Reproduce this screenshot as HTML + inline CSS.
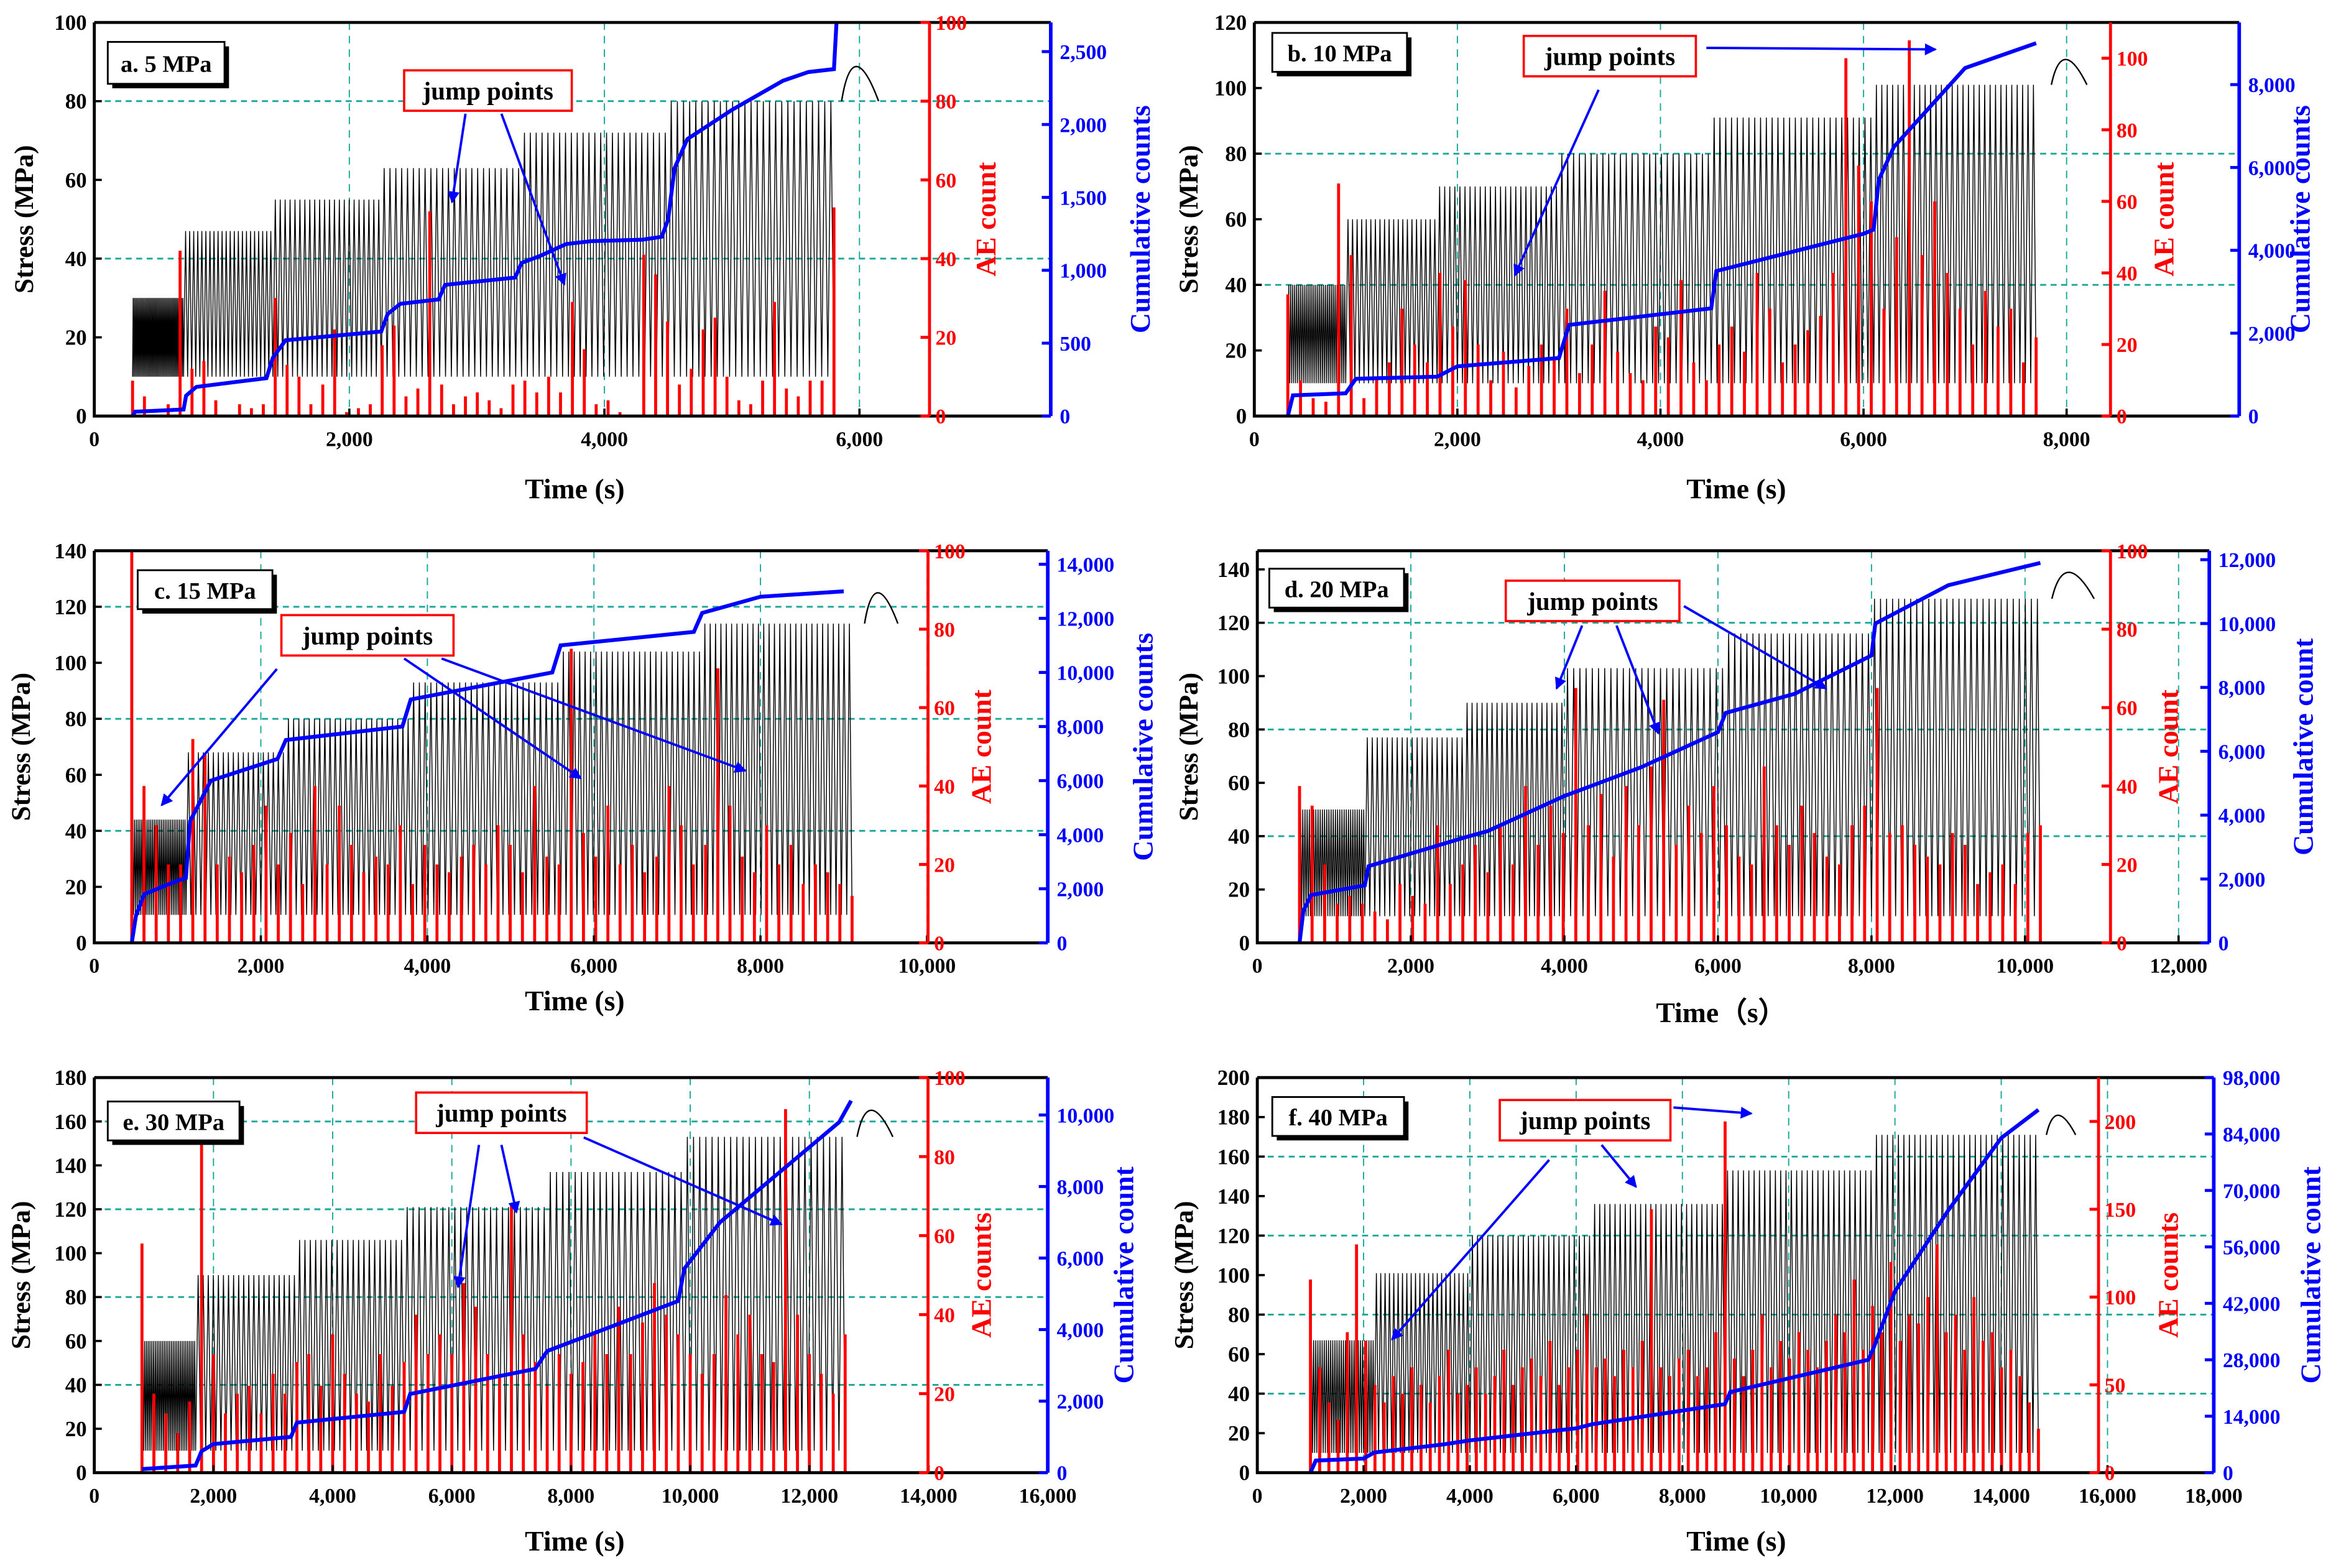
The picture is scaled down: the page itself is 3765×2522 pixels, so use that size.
<!DOCTYPE html>
<html><head><meta charset="utf-8">
<style>
html,body{margin:0;padding:0;background:#fff;}
svg{display:block;}
text{font-family:"Liberation Serif",serif;font-weight:bold;}
</style></head>
<body>
<svg id="fig" xmlns="http://www.w3.org/2000/svg" width="3765" height="2522" viewBox="0 0 1564 1047.7" preserveAspectRatio="none">
<defs>
<marker id="ah" markerWidth="8" markerHeight="8" refX="7" refY="4" orient="auto" markerUnits="userSpaceOnUse">
<path d="M0,0 L8,4 L0,8 Z" fill="#0000ff"/>
</marker>
</defs>
</svg>
<script>
// ---------- DATA ----------
const stageStart_a=[300,700,1400,2250,3350,4500];
const stageEnd_a=[700,1400,2250,3350,4500,5800];
const stageUpper_a=[30,47,55,63,72,80];
const stageCycles_a=[40,22,22,24,25,27];
const ae_a=[9,5,0,3,42,12,14,4,0,3,2,3,30,13,10,3,8,22,1,2,3,18,23,5,7,52,8,3,5,6,4,2,8,9,6,10,6,29,17,3,4,1,0,41,36,24,8,12,22,25,10,4,3,9,29,7,5,9,9,53];
const cumT_a=[300,320,700,720,800,1350,1400,1500,2000,2250,2300,2400,2700,2750,3300,3350,3500,3700,3900,4300,4450,4500,4550,4650,5000,5400,5600,5800,5820];
const cumV_a=[0,30,45,140,200,260,400,520,560,580,700,770,800,900,950,1050,1100,1180,1200,1210,1230,1350,1700,1900,2100,2300,2360,2380,2700];

const stageStart_b=[330,900,1800,3000,4500,6100];
const stageEnd_b=[900,1800,3000,4500,6100,7700];
const stageUpper_b=[40,60,70,80,91,101];
const stageCycles_b=[30,20,24,26,28,30];
const ae_b=[34,10,5,4,65,45,5,10,15,30,20,15,40,25,38,20,10,18,8,14,20,16,30,12,20,35,18,12,10,25,22,38,15,10,20,25,18,40,30,15,20,24,28,40,100,70,60,30,50,105,45,60,40,30,20,35,25,30,15,22];
const cumT_b=[330,380,900,1000,1800,2000,3000,3100,4500,4550,6000,6100,6150,6300,7000,7700];
const cumV_b=[0,500,550,900,950,1200,1400,2200,2600,3500,4400,4500,5700,6500,8400,9000];

const stageStart_c=[450,1100,2300,3800,5600,7300];
const stageEnd_c=[1100,2300,3800,5600,7300,9100];
const stageUpper_c=[44,68,80,93,104,114];
const stageCycles_c=[30,20,24,26,26,28];
const ae_c=[100,40,30,20,20,52,48,20,22,18,25,35,20,28,15,40,20,35,25,18,22,20,30,15,25,20,18,22,25,20,30,25,18,40,22,20,75,28,22,35,20,25,18,22,40,30,20,25,70,35,22,18,30,20,25,15,20,18,15,12];
const cumT_c=[450,500,600,1000,1100,1150,1400,2200,2300,3700,3800,5500,5600,7200,7300,8000,9000];
const cumV_c=[0,1000,1800,2300,2400,4500,6000,6800,7500,8000,9000,10000,11000,11500,12200,12800,13000];

const stageStart_d=[550,1400,2700,4000,6100,8000];
const stageEnd_d=[1400,2700,4000,6100,8000,10200];
const stageUpper_d=[50,77,90,103,116,129];
const stageCycles_d=[30,20,20,26,24,28];
const ae_d=[40,35,20,10,12,10,8,6,15,12,10,30,15,20,25,18,30,20,40,25,35,28,65,30,38,22,40,30,45,62,25,35,28,40,30,22,20,45,30,25,35,28,22,20,30,35,65,28,30,25,22,20,28,25,15,18,20,15,28,30];
const cumT_d=[550,600,700,1400,1450,2700,3000,4000,5000,6000,6100,7000,8000,8050,9000,10200];
const cumV_d=[0,1000,1500,1800,2400,3300,3500,4600,5500,6600,7200,7800,9000,10000,11200,11900];

const stageStart_e=[800,1700,3400,5200,7600,9900];
const stageEnd_e=[1700,3400,5200,7600,9900,12600];
const stageUpper_e=[60,90,106,121,137,153];
const stageCycles_e=[30,20,20,24,22,26];
const ae_e=[58,20,15,10,18,90,30,15,20,22,15,25,20,28,30,22,35,25,20,18,30,22,28,40,30,35,30,48,42,30,25,68,35,28,22,30,25,28,35,30,42,30,38,48,40,35,30,25,30,45,35,40,30,28,92,40,30,25,20,35];
const cumT_e=[800,1700,1800,2000,3300,3400,5200,5300,7400,7600,9800,9900,10500,12500,12700];
const cumV_e=[100,200,600,800,1000,1400,1700,2200,2900,3400,4800,5700,7000,9800,10400];

const stageStart_f=[1000,2200,4000,6300,8800,11600];
const stageEnd_f=[2200,4000,6300,8800,11600,14700];
const stageUpper_f=[67,101,120,136,153,171];
const stageCycles_f=[30,22,24,26,28,30];
const ae_f=[110,60,40,30,80,130,75,50,40,55,45,60,50,40,55,70,45,50,60,45,55,70,50,60,65,55,75,50,60,70,90,60,65,55,70,60,75,150,60,55,65,70,55,60,80,200,65,55,70,90,60,75,65,80,70,60,75,90,80,110,70,95,80,120,75,90,85,100,130,80,90,70,100,75,80,60,70,55,40,25];
const cumT_f=[1000,1100,2000,2200,3500,4000,6000,6300,8800,8900,11500,11600,12000,13000,14000,14700];
const cumV_f=[0,3000,3500,5000,7000,8000,11000,12000,17000,20000,28000,31000,45000,65000,83000,90000];

// ---------- LAYOUT ----------
const panels=[
 {id:'a',label:'a. 5 MPa',L:63,R:702,T:15,B:278,RA:621,xmax:7500,xstep:2000,ymax:100,ystep:20,rmax:100,rstep:20,bmax:2700,bstep:500,lo:10,
  ylx:22,rtx:665,btx:768,xt:[384,333],xtitle:'Time (s)',ytitle:'Stress (MPa)',rtitle:'AE count',btitle:'Cumulative counts',
  lbox:[72,28,78,28],jbox:[270,47,112,27],arrows:[[311,76,302,135],[335,76,377,190]],
  ss:stageStart_a,se:stageEnd_a,su:stageUpper_a,sc:stageCycles_a,ae:ae_a,ct:cumT_a,cv:cumV_a,arc:[5860,6150,88]},
 {id:'b',label:'b. 10 MPa',L:838,R:1496,T:15,B:278,RA:1410,xmax:9700,xstep:2000,ymax:120,ystep:20,rmax:110,rstep:20,bmax:9500,bstep:2000,lo:10,
  ylx:800,rtx:1452,btx:1543,xt:[1160,333],xtitle:'Time (s)',ytitle:'Stress  (MPa)',rtitle:'AE count',btitle:'Cumulative counts',
  lbox:[850,22,90,26],jbox:[1018,24,115,27],arrows:[[1068,60,1012,184],[1140,32,1293,33]],
  ss:stageStart_b,se:stageEnd_b,su:stageUpper_b,sc:stageCycles_b,ae:ae_b,ct:cumT_b,cv:cumV_b,arc:[7850,8200,108]},
 {id:'c',label:'c. 15 MPa',L:63,R:700,T:368,B:630,RA:620,xmax:11450,xstep:2000,ymax:140,ystep:20,rmax:100,rstep:20,bmax:14500,bstep:2000,lo:10,
  ylx:20,rtx:662,btx:770,xt:[384,675],xtitle:'Time (s)',ytitle:'Stress (MPa)',rtitle:'AE count',btitle:'Cumulative counts',
  lbox:[92,381,90,26],jbox:[188,411,115,27],arrows:[[185,447,108,538],[270,440,388,520],[295,440,498,515]],
  ss:stageStart_c,se:stageEnd_c,su:stageUpper_c,sc:stageCycles_c,ae:ae_c,ct:cumT_c,cv:cumV_c,arc:[9250,9650,124]},
 {id:'d',label:'d. 20 MPa',L:840,R:1476,T:368,B:630,RA:1410,xmax:12400,xstep:2000,ymax:147,ystep:20,rmax:100,rstep:20,bmax:12280,bstep:2000,lo:10,
  ylx:800,rtx:1455,btx:1545,xt:[1150,683],xtitle:'Time（s）',ytitle:'Stress (MPa)',rtitle:'AE count',btitle:'Cumulative count',
  lbox:[848,380,90,26],jbox:[1006,388,116,27],arrows:[[1057,418,1040,460],[1080,418,1108,490],[1125,405,1220,460]],
  ss:stageStart_d,se:stageEnd_d,su:stageUpper_d,sc:stageCycles_d,ae:ae_d,ct:cumT_d,cv:cumV_d,arc:[10350,10900,138]},
 {id:'e',label:'e. 30 MPa',L:63,R:700,T:720,B:984,RA:620,xmax:16000,xstep:2000,ymax:180,ystep:20,rmax:100,rstep:20,bmax:11046,bstep:2000,lo:10,
  ylx:20,rtx:662,btx:757,xt:[384,1036],xtitle:'Time (s)',ytitle:'Stress (MPa)',rtitle:'AE counts',btitle:'Cumulative count',
  lbox:[72,736,88,26],jbox:[278,730,114,27],arrows:[[320,765,306,860],[335,765,345,810],[390,760,522,818]],
  ss:stageStart_e,se:stageEnd_e,su:stageUpper_e,sc:stageCycles_e,ae:ae_e,ct:cumT_e,cv:cumV_e,arc:[12800,13400,164]},
 {id:'f',label:'f. 40 MPa',L:840,R:1479,T:720,B:984,RA:1402,xmax:18000,xstep:2000,ymax:200,ystep:20,rmax:225,rstep:50,bmax:98000,bstep:14000,lo:10,
  ylx:797,rtx:1455,btx:1550,xt:[1160,1036],xtitle:'Time  (s)',ytitle:'Stress (MPa)',rtitle:'AE counts',btitle:'Cumulative count',
  lbox:[850,733,88,26],jbox:[1002,735,114,27],arrows:[[1035,775,930,895],[1070,765,1093,793],[1118,740,1170,744]],
  ss:stageStart_f,se:stageEnd_f,su:stageUpper_f,sc:stageCycles_f,ae:ae_f,ct:cumT_f,cv:cumV_f,arc:[14850,15400,180]}
];

const NS='http://www.w3.org/2000/svg';
const svg=document.getElementById('fig');
function mk(tag,attrs,parent,txt){const e=document.createElementNS(NS,tag);for(const k in attrs)e.setAttribute(k,attrs[k]);if(txt!==undefined)e.textContent=txt;(parent||svg).appendChild(e);return e;}
const fmt=v=>v.toLocaleString('en-US');

panels.forEach(p=>{
  const g=mk('g',{});
  
  
  const xs=t=>p.L+t/p.xmax*(p.R-p.L);
  const ys=v=>p.B-v/p.ymax*(p.B-p.T);
  const yr=v=>p.B-v/p.rmax*(p.B-p.T);
  const yb=v=>p.B-v/p.bmax*(p.B-p.T);
  const teal='#1aa89a';
  for(let v=p.ystep*2;v<p.ymax;v+=p.ystep*2){
    const l=mk('line',{x1:p.L,x2:p.R,y1:ys(v),y2:ys(v),stroke:teal,'stroke-width':1.2,'stroke-dasharray':'4,3'},g);
    
    
  }
  for(let t=p.xstep;t<p.xmax;t+=p.xstep){
    const l=mk('line',{x1:xs(t),x2:xs(t),y1:p.T,y2:p.B,stroke:teal,'stroke-width':0.8,'stroke-dasharray':'5,4'},g);
    
    
  }
  let d='';
  for(let i=0;i<p.ss.length;i++){
    const n=p.sc[i],s=p.ss[i],e=p.se[i],dt=(e-s)/n;
    for(let k=0;k<n;k++){
      const t0=s+k*dt;
      d+=(d?'L':'M')+xs(t0).toFixed(2)+','+ys(p.lo).toFixed(2)+'L'+xs(t0+dt/2).toFixed(2)+','+ys(p.su[i]).toFixed(2);
    }
    d+='L'+xs(e).toFixed(2)+','+ys(p.lo).toFixed(2);
  }
  const sp=mk('path',{d:d,fill:'none',stroke:'#000','stroke-width':0.6},g);
  
  
  const last=p.su[p.su.length-1];
  const a0=p.arc[0],a1=p.arc[1],ap=p.arc[2];
  const arc=mk('path',{d:`M${xs(a0)},${ys(last)} Q${xs(a0+(a1-a0)*0.3)},${ys(ap+(ap-last)*1.2)} ${xs(a1)},${ys(last)}`,fill:'none',stroke:'#000','stroke-width':1},g);
  
  
  const s0=p.ss[0],s1=p.se[p.se.length-1];
  p.ae.forEach((v,i)=>{
    const t=s0+(s1-s0)*i/(p.ae.length-1);
    const b=mk('line',{x1:xs(t),x2:xs(t),y1:yr(0),y2:yr(v),stroke:'#ff0000','stroke-width':2},g);
    
    
  });
  const pts=p.ct.map((t,i)=>xs(t).toFixed(2)+','+yb(p.cv[i]).toFixed(2)).join(' ');
  const cl=mk('polyline',{points:pts,fill:'none',stroke:'#0000ff','stroke-width':2.6},g);
  
  
  const fr=mk('path',{d:`M${p.L},${p.T}H${p.R}M${p.L},${p.T}V${p.B}H${p.R}`,fill:'none',stroke:'#000','stroke-width':2},g);
  
  
  for(let v=0;v<=p.ymax+0.01;v+=p.ystep){
    mk('line',{x1:p.L,x2:p.L+5,y1:ys(v),y2:ys(v),stroke:'#000','stroke-width':1.5},g);
    const tl=mk('text',{x:p.L-5,y:ys(v)+5,'text-anchor':'end','font-size':14.5,fill:'#000'},g,String(v));
    
    
  }
  for(let t=0;t<=p.xmax;t+=p.xstep){
    mk('line',{x1:xs(t),x2:xs(t),y1:p.B,y2:p.B-5,stroke:'#000','stroke-width':1.5},g);
    const tl=mk('text',{x:xs(t),y:p.B+20,'text-anchor':'middle','font-size':14,fill:'#000'},g,fmt(t));
    
    
  }
  const ra=mk('line',{x1:p.RA,x2:p.RA,y1:p.T,y2:p.B,stroke:'#ff0000','stroke-width':2},g);
  
  
  for(let v=0;v<=p.rmax;v+=p.rstep){
    mk('line',{x1:p.RA-6,x2:p.RA,y1:yr(v),y2:yr(v),stroke:'#ff0000','stroke-width':2},g);
    const tl=mk('text',{x:p.RA+4,y:yr(v)+5,'font-size':14,fill:'#ff0000'},g,String(v));
    
    
  }
  const ba=mk('line',{x1:p.R,x2:p.R,y1:p.T,y2:p.B,stroke:'#0000ff','stroke-width':2.4},g);
  
  
  for(let v=0;v<=p.bmax;v+=p.bstep){
    mk('line',{x1:p.R-6,x2:p.R,y1:yb(v),y2:yb(v),stroke:'#0000ff','stroke-width':2},g);
    const tl=mk('text',{x:p.R+6,y:yb(v)+5,'font-size':14,fill:'#0000ff'},g,fmt(v));
    
    
  }
  const cy=(p.T+p.B)/2;
  const yt=mk('text',{x:p.ylx,y:cy,'text-anchor':'middle','font-size':18,fill:'#000',transform:`rotate(-90 ${p.ylx} ${cy})`},g,p.ytitle);
  
  
  const rt=mk('text',{x:p.rtx,y:cy,'text-anchor':'middle','font-size':19,fill:'#ff0000',transform:`rotate(-90 ${p.rtx} ${cy})`},g,p.rtitle);
  
  
  const bt=mk('text',{x:p.btx,y:cy,'text-anchor':'middle','font-size':19,fill:'#0000ff',transform:`rotate(-90 ${p.btx} ${cy})`},g,p.btitle);
  
  
  const xt=mk('text',{x:p.xt[0],y:p.xt[1],'text-anchor':'middle','font-size':19,fill:'#000'},g,p.xtitle);
  
  
  const lb=p.lbox;
  mk('rect',{x:lb[0]+3,y:lb[1]+3,width:lb[2],height:lb[3],fill:'#000'},g);
  const lr=mk('rect',{x:lb[0],y:lb[1],width:lb[2],height:lb[3],fill:'#fff',stroke:'#000','stroke-width':1.2},g);
  
  
  const lt=mk('text',{x:lb[0]+lb[2]/2,y:lb[1]+lb[3]/2+6,'text-anchor':'middle','font-size':16,fill:'#000'},g,p.label);
  
  
  const jb=p.jbox;
  const jr=mk('rect',{x:jb[0],y:jb[1],width:jb[2],height:jb[3],fill:'#fff',stroke:'#ff0000','stroke-width':1.5},g);
  
  
  const jt=mk('text',{x:jb[0]+jb[2]/2,y:jb[1]+jb[3]/2+6,'text-anchor':'middle','font-size':17,fill:'#000'},g,'jump points');
  
  
  p.arrows.forEach(a=>{
    const ar=mk('line',{x1:a[0],y1:a[1],x2:a[2],y2:a[3],stroke:'#0000ff','stroke-width':1.6,'marker-end':'url(#ah)'},g);
    
    
  });
});
</script>
</body></html>
